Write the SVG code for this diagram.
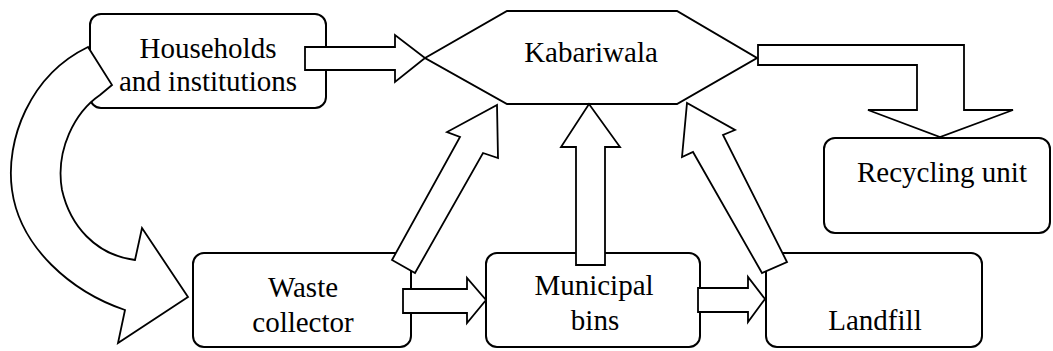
<svg xmlns="http://www.w3.org/2000/svg" width="1053" height="351" viewBox="0 0 1053 351">
<style>
.box{fill:#fff;stroke:#000;stroke-width:2}
.arr{fill:#fff;stroke:#000;stroke-width:1.8;stroke-linejoin:miter}
text{font-size:29px;fill:#000;text-anchor:middle}
</style>
<rect width="1053" height="351" fill="#fff"/>
<g font-family="Liberation Serif, DejaVu Serif, serif">
<g id="households"><rect class="box" x="90" y="14" width="236" height="94" rx="11"/><text x="208" y="58">Households</text><text x="208" y="91">and institutions</text></g>
<g id="kabariwala"><polygon class="box" points="425,58 507,11 677,11 757,58 677,104 507,104"/><text x="591" y="62">Kabariwala</text></g>
<g id="recycling"><rect class="box" x="824" y="138" width="226" height="95" rx="11"/><text x="942" y="182">Recycling unit</text></g>
<g id="waste-collector"><rect class="box" x="193" y="253" width="218" height="94" rx="11"/><text x="303" y="297">Waste</text><text x="303" y="332">collector</text></g>
<g id="municipal-bins"><rect class="box" x="486" y="253" width="214" height="94" rx="11"/><text x="594" y="295">Municipal</text><text x="595" y="330">bins</text></g>
<g id="landfill"><rect class="box" x="766" y="253" width="216" height="94" rx="11"/><text x="875" y="330">Landfill</text></g>
</g>
<g id="connectors">
<path class="arr" d="M88 47 C30 75,5 140,12 190 C20 248,72 292,125 310 L118 343 L188 297 L142 228 L135 260 C95 255,70 225,62 190 C55 150,75 112,100 95 L112 85 Z"/>
<path class="arr" d="M305 47 L395 47 L395 35 L425 58 L395 82 L395 70 L305 70 Z"/>
<path class="arr" d="M758 45 L964 45 L964 110 L1013 110 L940 137 L868 110 L917 110 L917 65 L758 65 Z"/>
<path class="arr" d="M576 265 L576 147 L561 147 L589 104 L620 147 L605 147 L605 265 Z"/>
<path class="arr" d="M403 289 L467 289 L467 278 L486 300 L467 323 L467 313 L403 313 Z"/>
<path class="arr" d="M698 288 L748 288 L748 277 L765 299 L748 322 L748 312 L698 312 Z"/>
<path class="arr" d="M392 260 L460 137 L447 132 L497 105 L498 158 L483 153 L415 273 Z"/>
<path class="arr" d="M762 273 L693 152 L682 157 L687 103 L735 130 L723 135 L787 262 Z"/>
</g>
</svg>
